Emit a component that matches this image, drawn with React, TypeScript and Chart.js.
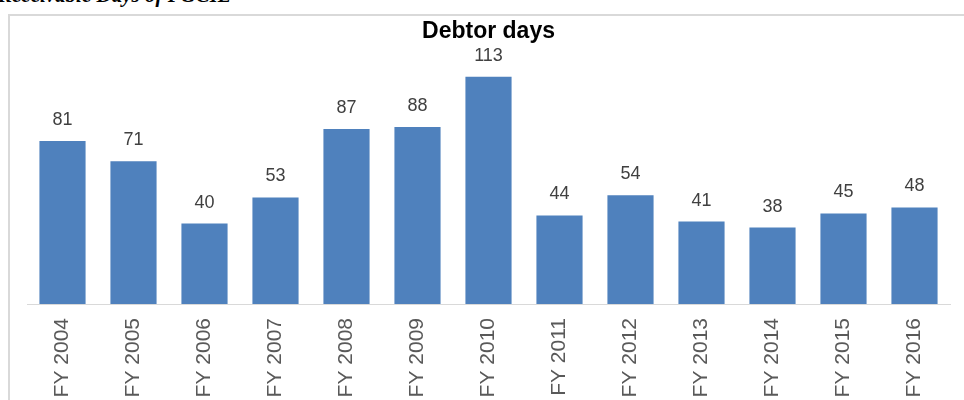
import React, { useEffect, useRef } from "react";
import { Chart, registerables } from "chart.js";

Chart.register(...registerables);

const categories = ["FY 2004", "FY 2005", "FY 2006", "FY 2007", "FY 2008", "FY 2009", "FY 2010", "FY 2011", "FY 2012", "FY 2013", "FY 2014", "FY 2015", "FY 2016"];
const debtorDays = [81, 71, 40, 53, 87, 88, 113, 44, 54, 41, 38, 45, 48];
const chartTitle = "Debtor days";
const headerText = "Receivable Days of PGCIL";

const valueLabels = {
  id: "valueLabels",
  afterDatasetsDraw(chart: any) {
    const ctx = chart.ctx;
    const meta = chart.getDatasetMeta(0);
    ctx.save();
    ctx.font = "18px 'Liberation Sans', Arial, sans-serif";
    ctx.fillStyle = "#404040";
    ctx.textAlign = "center";
    ctx.textBaseline = "alphabetic";
    meta.data.forEach((bar: any, i: number) => {
      ctx.fillText(String(chart.data.datasets[0].data[i]), bar.x, bar.y - 16);
    });
    ctx.restore();
  },
};

export default function App() {
  const ref = useRef<HTMLCanvasElement>(null);
  useEffect(() => {
    if (!ref.current) return;
    const chart = new Chart(ref.current, {
      type: "bar",
      data: {
        labels: categories,
        datasets: [
          {
            data: debtorDays,
            backgroundColor: "#4f81bd",
            borderWidth: 0,
            categoryPercentage: 1,
            barPercentage: 0.65,
          },
        ],
      },
      options: {
        animation: false,
        responsive: false,
        maintainAspectRatio: false,
        layout: { padding: { left: 27, right: 14, top: 0, bottom: 0 } },
        plugins: {
          legend: { display: false },
          tooltip: { enabled: false },
          title: {
            display: true,
            text: chartTitle,
            color: "#000000",
            font: { family: "'Liberation Sans', Arial, sans-serif", size: 23, weight: "bold" },
            padding: { top: 18, bottom: 17 },
          },
        },
        scales: {
          x: {
            grid: { display: false, drawTicks: false },
            border: { display: true, color: "#d9d9d9", width: 1 },
            ticks: {
              minRotation: 90,
              maxRotation: 90,
              padding: 14,
              color: "#595959",
              font: { family: "'Liberation Sans', Arial, sans-serif", size: 21 },
            },
            afterFit(scale: any) {
              scale.height = 96;
            },
          },
          y: {
            display: false,
            min: 0,
            max: 120,
          },
        },
      },
      plugins: [valueLabels],
    });
    return () => chart.destroy();
  }, []);

  return (
    <div style={{ position: "fixed", left: 0, top: 0, width: 964, height: 400, overflow: "hidden", background: "#ffffff" }}>
      <div
        style={{
          position: "absolute",
          left: -2,
          top: -17,
          lineHeight: "21px",
          font: "bold italic 21px 'Liberation Serif', 'Times New Roman', serif",
          whiteSpace: "nowrap",
          color: "#000",
        }}
      >
        {headerText}
      </div>
      <div
        style={{
          position: "absolute",
          left: 8,
          top: 14,
          width: 1000,
          height: 500,
          border: "2px solid #d9d9d9",
        }}
      />
      <canvas ref={ref} width={964} height={400} style={{ position: "absolute", left: 0, top: 0, width: 964, height: 400 }} />
    </div>
  );
}
